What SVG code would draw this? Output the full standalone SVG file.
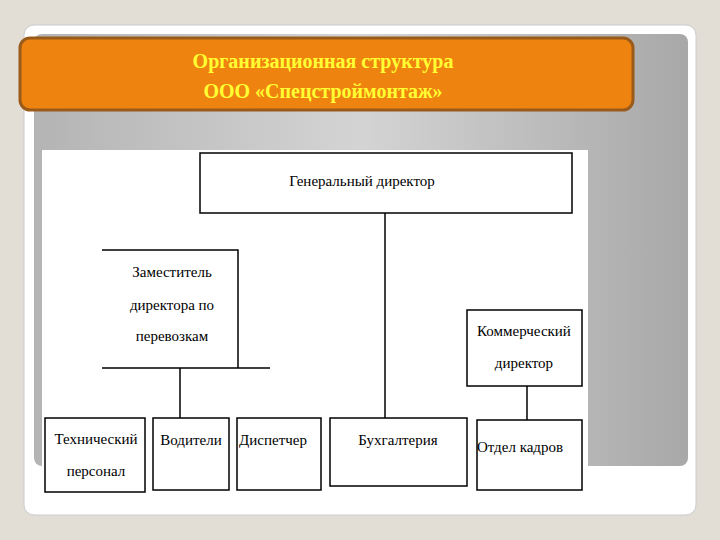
<svg xmlns="http://www.w3.org/2000/svg" width="720" height="540" viewBox="0 0 720 540">
<defs>
<linearGradient id="g" x1="0" y1="0" x2="1" y2="0"><stop offset="0" stop-color="#b4b4b4"/><stop offset="0.5" stop-color="#d4d4d4"/><stop offset="1" stop-color="#a8a8a8"/></linearGradient>
</defs>
<style>
.b{fill:#fff;stroke:#000;stroke-width:1.5}
.l{stroke:#000;stroke-width:1.5;fill:none}
.t{font-family:"Liberation Serif",serif;font-size:15px;text-anchor:middle;fill:#000}
</style>
<rect width="720" height="540" fill="#e2ded5"/>
<rect x="24" y="25" width="672" height="490" rx="10" fill="#fff" stroke="#ccc"/>
<rect x="34" y="34" width="654" height="432" rx="8" fill="url(#g)"/>
<g id="title">
<rect x="20" y="38" width="613" height="72" rx="10" fill="#ef8310" stroke="#9a5a1a" stroke-width="3"/>
<text x="323" y="68" font-family="Liberation Serif,serif" font-weight="bold" font-size="20" fill="#ffff33" text-anchor="middle">Организационная структура</text>
<text x="323" y="98" font-family="Liberation Serif,serif" font-weight="bold" font-size="20" fill="#ffff33" text-anchor="middle">ООО «Спецстроймонтаж»</text>
</g>
<rect x="42" y="150" width="546" height="346" fill="#fff"/>
<g id="connectors">
<line class="l" x1="385" y1="213" x2="385" y2="418"/>
<line class="l" x1="180" y1="368" x2="180" y2="418"/>
<line class="l" x1="527" y1="386" x2="527" y2="420"/>
</g>
<g id="gen"><rect class="b" x="200" y="153" width="372" height="60"/><text class="t" x="362" y="186">Генеральный директор</text></g>
<g id="zam">
<path class="l" d="M102 250H238V368M102 368H270"/>
<text class="t" x="172" y="277">Заместитель</text>
<text class="t" x="172" y="310">директора по</text>
<text class="t" x="172" y="341">перевозкам</text>
</g>
<g id="kom"><rect class="b" x="467" y="310" width="115" height="76"/><text class="t" x="524" y="336">Коммерческий</text><text class="t" x="524" y="368">директор</text></g>
<g id="tech"><rect class="b" x="45" y="418" width="100" height="74"/><text class="t" x="96" y="444">Технический</text><text class="t" x="96" y="476">персонал</text></g>
<g id="vod"><rect class="b" x="153" y="418" width="76" height="72"/><text class="t" x="191" y="445">Водители</text></g>
<g id="disp"><rect class="b" x="237" y="418" width="84" height="72"/><text class="t" x="273" y="445">Диспетчер</text></g>
<g id="buh"><rect class="b" x="330" y="418" width="137" height="68"/><text class="t" x="398" y="445">Бухгалтерия</text></g>
<g id="otd"><rect class="b" x="477" y="420" width="105" height="70"/><text class="t" x="520" y="452">Отдел кадров</text></g>
</svg>
